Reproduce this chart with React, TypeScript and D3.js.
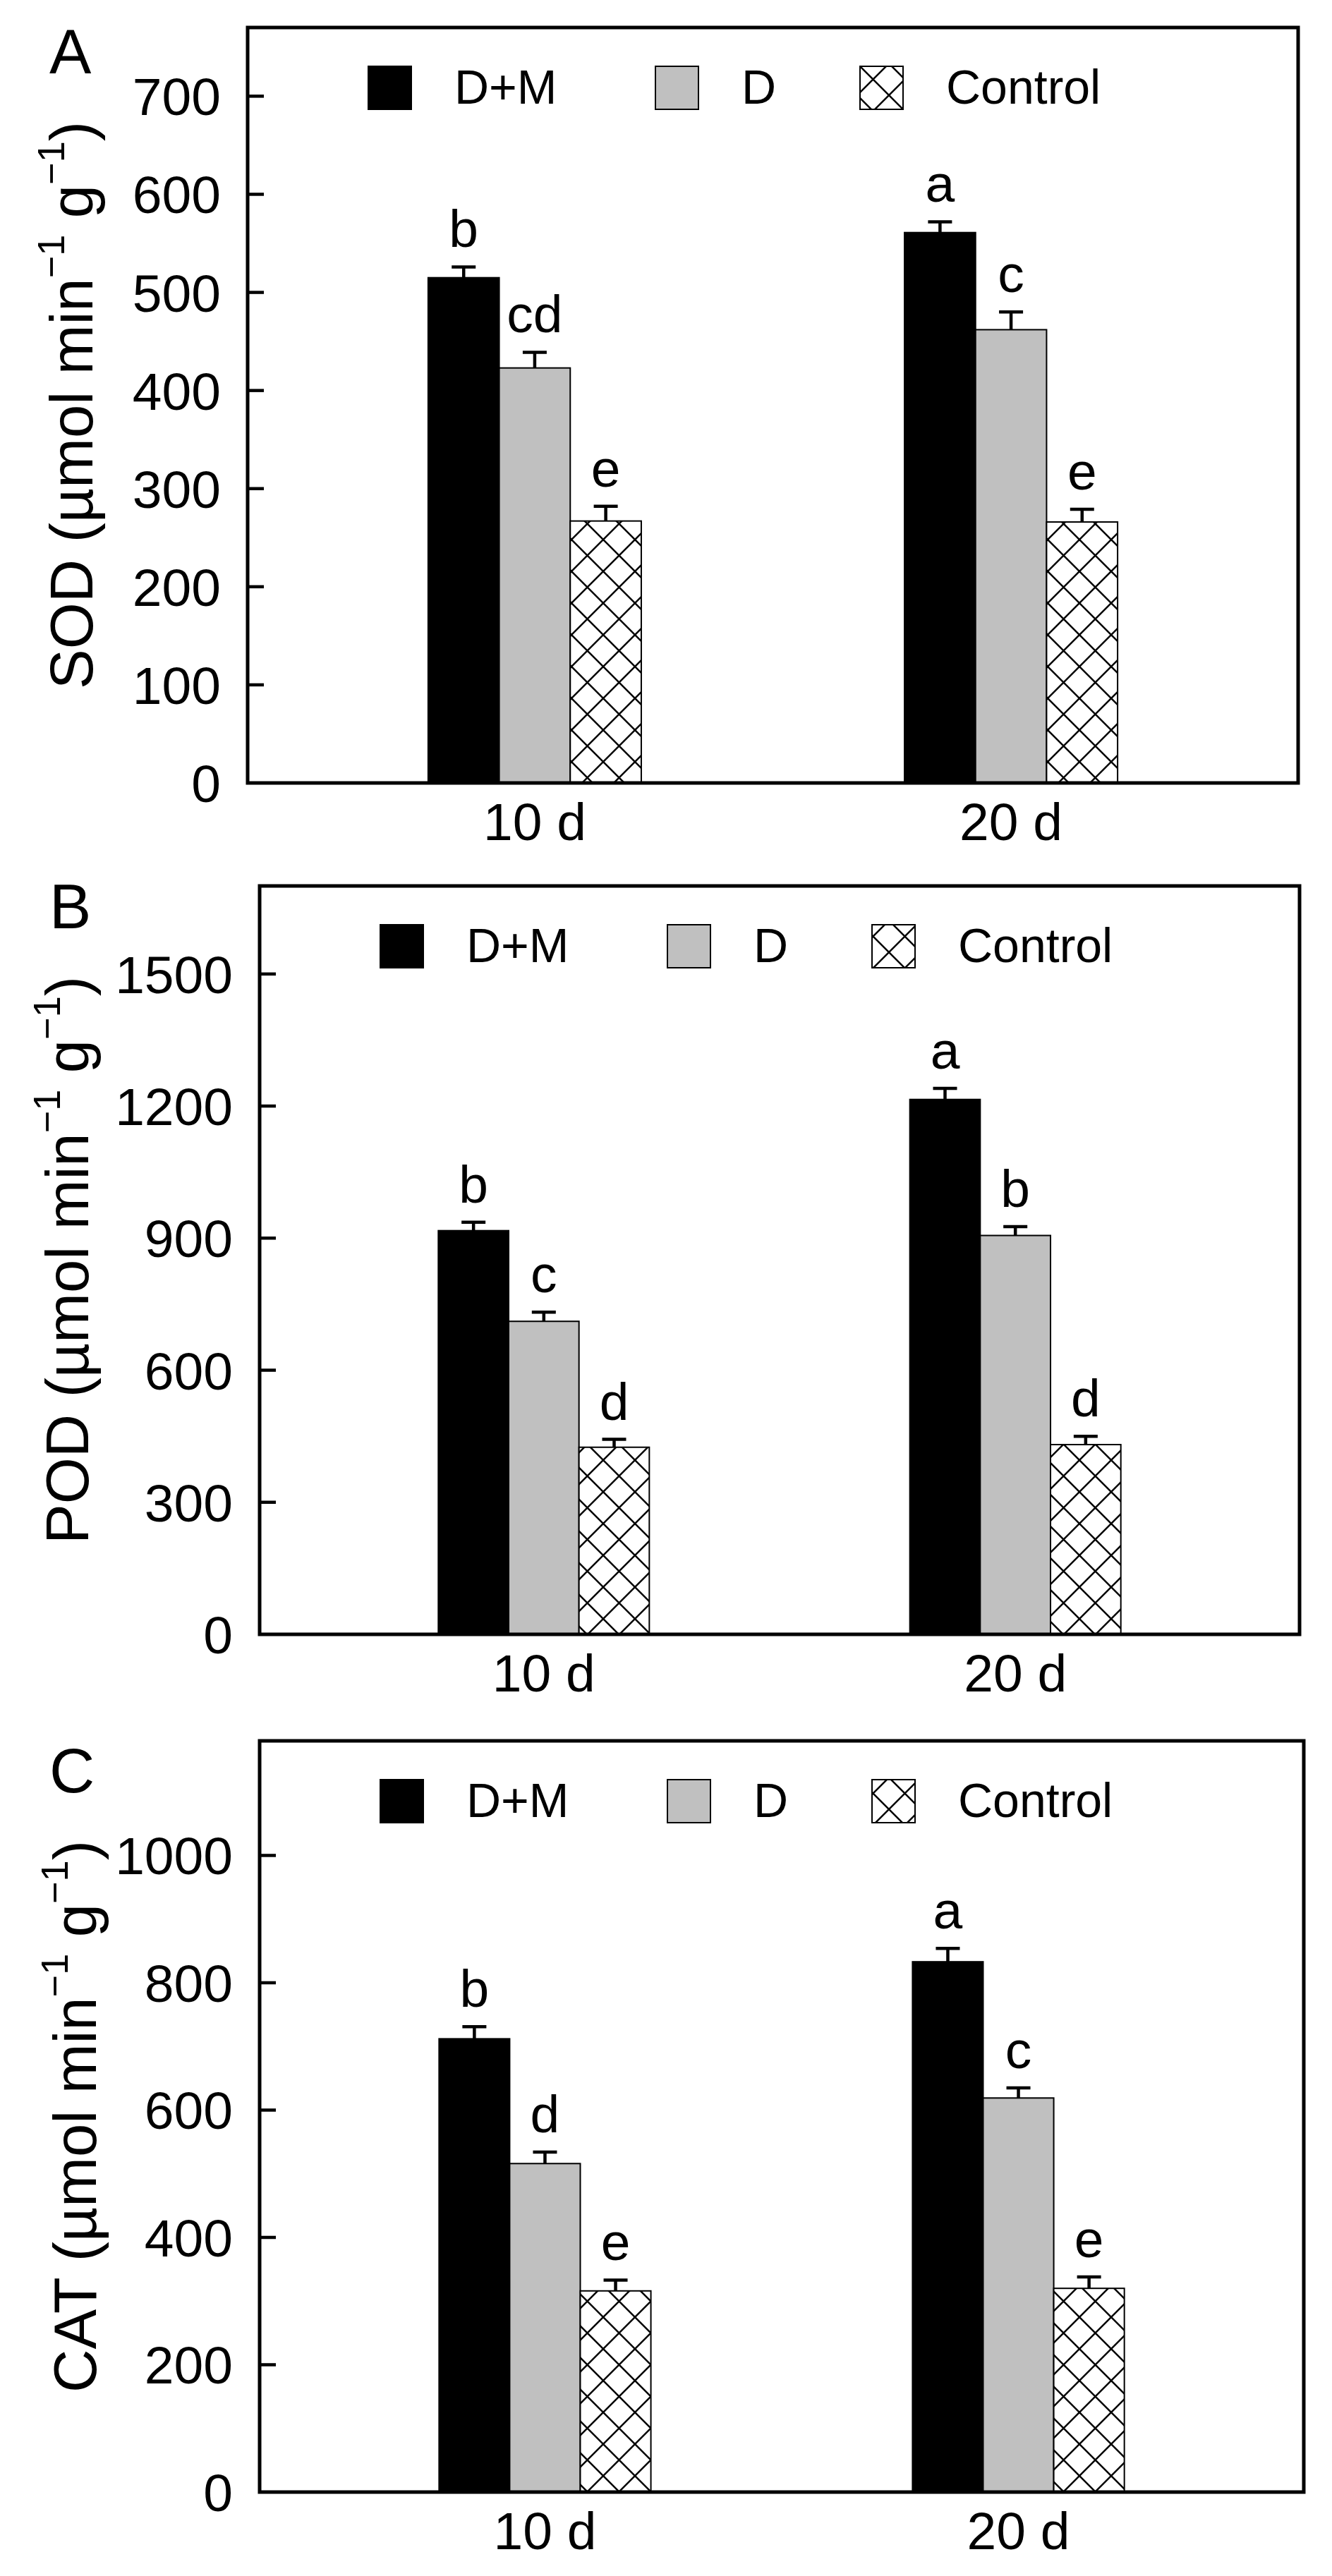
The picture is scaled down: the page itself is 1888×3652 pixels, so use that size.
import React from "react";
import * as d3 from "d3";

// categories and series
const categories = ["10 d", "20 d"];
const series = ["D+M", "D", "Control"];

// SOD (panel A), rows = series, cols = categories
const sodMeans = [[515, 561], [423, 462], [267, 266]];
const sodErrors = [[11, 11], [16, 18], [15, 13]];
const sodLetters = [["b", "a"], ["cd", "c"], ["e", "e"]];
const sodTicks = [0, 100, 200, 300, 400, 500, 600, 700];

// POD (panel B)
const podMeans = [[917, 1215], [711, 906], [425, 431]];
const podErrors = [[19, 25], [21, 20], [18, 19]];
const podLetters = [["b", "a"], ["c", "b"], ["d", "d"]];
const podTicks = [0, 300, 600, 900, 1200, 1500];

// CAT (panel C)
const catMeans = [[712, 833], [516, 619], [316, 320]];
const catErrors = [[19, 21], [18, 16], [17, 18]];
const catLetters = [["b", "a"], ["d", "c"], ["e", "e"]];
const catTicks = [0, 200, 400, 600, 800, 1000];

const FONT = "'Liberation Sans', Arial, Helvetica, sans-serif";
const fills = ["#000000", "#c0c0c0", "url(#hatch)"];

interface PanelProps {
  letter: string;
  enzyme: string;
  means: number[][];
  errors: number[][];
  letters: string[][];
  ticks: number[];
  yMax: number;
  left: number;
  right: number;
  top: number;
  bottom: number;
  labelX: number;
  letterY: number;
}

const Panel = (p: PanelProps) => {
  const x = d3
    .scaleBand<string>()
    .domain(categories)
    .range([p.left, p.right])
    .paddingInner(0.5526)
    .paddingOuter(0.379);
  const xs = d3.scaleBand<string>().domain(series).range([0, x.bandwidth()]);
  const y = d3.scaleLinear().domain([0, p.yMax]).range([p.bottom, p.top]);

  // legend item offsets from the frame's left edge
  const legendX = [171, 578, 868];
  const legendTop = p.top + 55;
  const sq = 61;

  return (
    <g>
      {/* bars */}
      {series.map((s, si) =>
        categories.map((c, ci) => {
          const bx = (x(c) as number) + (xs(s) as number);
          const bw = xs.bandwidth();
          const v = p.means[si][ci];
          const e = p.errors[si][ci];
          const cx = bx + bw / 2;
          return (
            <g key={s + c}>
              <rect
                x={bx}
                y={y(v)}
                width={bw}
                height={y(0) - y(v)}
                fill={fills[si]}
                stroke="#000"
                strokeWidth={2}
              />
              <line x1={cx} x2={cx} y1={y(v)} y2={y(v + e)} stroke="#000" strokeWidth={4.5} />
              <line x1={cx - 17} x2={cx + 17} y1={y(v + e)} y2={y(v + e)} stroke="#000" strokeWidth={4.5} />
              <text
                x={cx}
                y={y(v + e) - 28}
                textAnchor="middle"
                fontSize={75}
                fontFamily={FONT}
              >
                {p.letters[si][ci]}
              </text>
            </g>
          );
        })
      )}

      {/* frame */}
      <rect
        x={p.left}
        y={p.top}
        width={p.right - p.left}
        height={p.bottom - p.top}
        fill="none"
        stroke="#000"
        strokeWidth={5}
      />

      {/* y ticks */}
      {p.ticks.map((t) => (
        <g key={t}>
          {t > 0 && (
            <line x1={p.left} x2={p.left + 23} y1={y(t)} y2={y(t)} stroke="#000" strokeWidth={4.5} />
          )}
          <text
            x={p.left - 38}
            y={y(t)}
            dy="0.36em"
            textAnchor="end"
            fontSize={75}
            fontFamily={FONT}
          >
            {t}
          </text>
        </g>
      ))}

      {/* x labels */}
      {categories.map((c) => (
        <text
          key={c}
          x={(x(c) as number) + x.bandwidth() / 2}
          y={p.bottom + 81}
          textAnchor="middle"
          fontSize={75}
          fontFamily={FONT}
        >
          {c}
        </text>
      ))}

      {/* y label */}
      <text
        transform={`translate(${p.labelX},${(p.top + p.bottom) / 2}) rotate(-90)`}
        textAnchor="middle"
        fontSize={85}
        fontFamily={FONT}
      >
        {p.enzyme} (µmol min
        <tspan fontSize={54} dy={-40}>−1</tspan>
        <tspan dy={40}> g</tspan>
        <tspan fontSize={54} dy={-40}>−1</tspan>
        <tspan dy={40}>)</tspan>
      </text>

      {/* panel letter */}
      <text x={70} y={p.letterY} fontSize={89} fontFamily={FONT}>
        {p.letter}
      </text>

      {/* legend */}
      {series.map((s, si) => (
        <g key={s}>
          <rect
            x={p.left + legendX[si]}
            y={legendTop}
            width={sq}
            height={sq}
            fill={fills[si]}
            stroke="#000"
            strokeWidth={2}
          />
          <text
            x={p.left + legendX[si] + 122}
            y={legendTop + sq / 2 + 22}
            fontSize={68}
            fontFamily={FONT}
          >
            {s}
          </text>
        </g>
      ))}
    </g>
  );
};

export default function App() {
  return (
    <svg
      width={1888}
      height={3652}
      style={{ position: "absolute", left: 0, top: 0, background: "#fff" }}
    >
      <defs>
        <pattern id="hatch" patternUnits="userSpaceOnUse" width={45} height={45}>
          <rect width={45} height={45} fill="#fff" />
          <path
            d="M0,0 L45,45 M45,0 L0,45 M-5,5 L5,-5 M40,50 L50,40 M-5,40 L5,50 M40,-5 L50,5"
            stroke="#000"
            strokeWidth={2.5}
          />
        </pattern>
      </defs>
      <rect width={1888} height={3652} fill="#fff" />
      <Panel
        letter="A"
        enzyme="SOD"
        means={sodMeans}
        errors={sodErrors}
        letters={sodLetters}
        ticks={sodTicks}
        yMax={770}
        left={351}
        right={1840}
        top={39}
        bottom={1110}
        labelX={131}
        letterY={104}
      />
      <Panel
        letter="B"
        enzyme="POD"
        means={podMeans}
        errors={podErrors}
        letters={podLetters}
        ticks={podTicks}
        yMax={1700}
        left={368}
        right={1842}
        top={1256}
        bottom={2317}
        labelX={125}
        letterY={1316}
      />
      <Panel
        letter="C"
        enzyme="CAT"
        means={catMeans}
        errors={catErrors}
        letters={catLetters}
        ticks={catTicks}
        yMax={1180}
        left={368}
        right={1848}
        top={2468}
        bottom={3533}
        labelX={136}
        letterY={2541}
      />
    </svg>
  );
}
